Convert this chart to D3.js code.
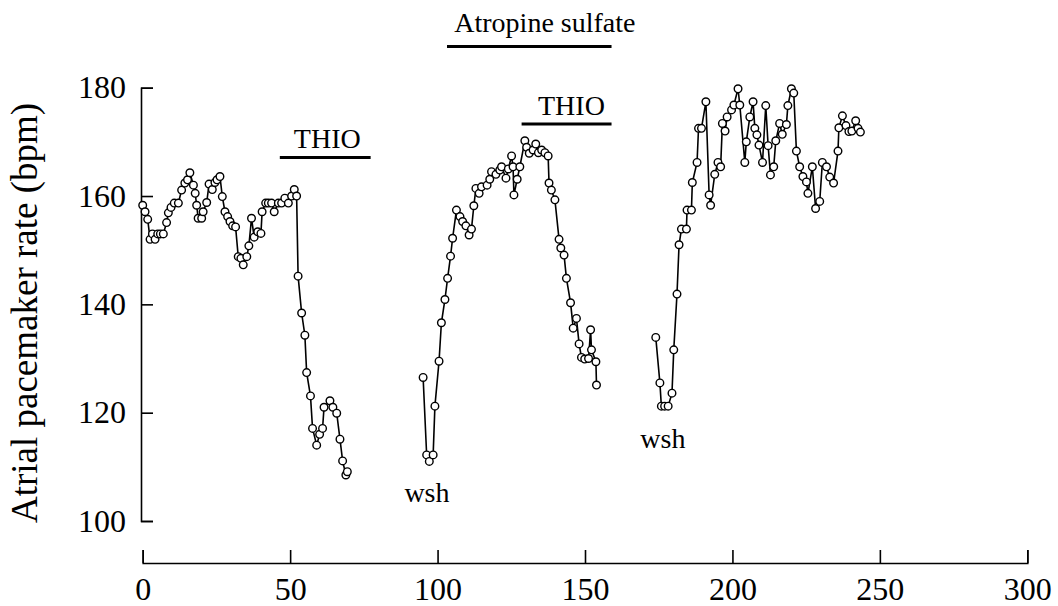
<!DOCTYPE html>
<html><head><meta charset="utf-8">
<script src="https://cdn.jsdelivr.net/npm/d3@7"></script>
<style>
html,body{margin:0;padding:0;background:#fff;}
svg{display:block;}
text{font-family:"Liberation Serif","Times New Roman",serif;fill:#000;}
</style></head>
<body>
<svg id="chart" width="1058" height="606"></svg>
<script>
// ---- data ----
const seg1Time = [0,0.8,1.7,2.5,3.3,4.2,5.1,6.0,7.0,8.1,8.7,9.6,10.7,12.1,13.2,14.3,15.2,16.0,17.2,17.8,18.3,18.8,20.0,20.5,21.7,22.5,23.6,24.5,25.2,26.2,27.0,27.9,28.8,29.6,30.5,31.5,32.4,33.3,34.1,35.3,36.0,36.9,37.8,39.0,40.1,40.5,41.7,42.6,43.7,44.6,46.0,47.1,48.2,49.4,50.5,51.4,52.2,52.7,53.9,55.0,55.6,56.9,57.6,59.0,60.0,61.0,61.5,63.5,64.5,65.8,66.9,67.8,68.9,69.4];
const seg1Rate = [158.3,157.1,155.7,152.0,153.0,152.0,153.0,153.0,153.0,155.1,156.9,157.9,158.7,158.7,161.1,162.4,163.0,164.3,162.0,160.5,158.3,155.9,155.9,157.1,158.8,162.2,161.2,162.5,163.0,163.6,159.9,157.1,156.2,155.3,154.5,154.3,148.8,148.5,147.3,148.8,150.8,155.9,152.4,153.4,153.1,157.1,158.7,158.7,158.7,157.1,158.7,158.7,159.6,158.7,160.0,161.2,160.0,145.2,138.4,134.3,127.4,123.1,117.1,114.0,116.0,117.1,121.0,122.2,121.0,119.9,115.1,111.1,108.5,109.1];

const seg2Time = [95.1,96.3,97.2,98.5,99.1,100.5,101.3,102.5,103.4,104.4,105.1,106.4,107.6,108.5,109.6,110.7,111.5,112.3,113.0,114.1,114.9,116.8,117.7,118.3,119.8,121.1,121.7,123.2,124.0,125.1,125.6,125.9,127.0,127.9,129.6,130.2,131.1,132.4,133.3,134.2,135.3,136.4,137.5,137.8,138.6,139.8,141.2,141.8,142.9,143.7,145.1,146.0,147.1,148.0,148.8,149.9,151.2,151.9,152.2,153.7,153.9];
const seg2Rate = [126.5,112.2,111.0,112.2,121.2,129.5,136.6,140.9,144.8,148.9,152.2,157.4,156.2,155.3,154.5,152.8,153.9,158.2,161.4,160.5,161.7,162.0,163.1,164.5,164.0,164.8,165.4,163.3,165.0,167.4,165.4,160.2,163.1,165.4,170.2,169.0,167.9,168.5,169.6,168.0,168.5,168.0,167.4,162.4,161.1,159.3,152.0,150.4,149.1,144.8,140.3,135.6,137.4,132.7,130.2,129.9,130.0,135.3,131.6,129.4,125.1];

const seg3Time = [174.0,175.4,175.9,177.0,178.2,179.5,180.1,181.2,181.9,182.7,184.4,184.6,186.1,186.4,188.0,188.5,189.5,191.0,192.1,192.6,194.0,195.1,196.0,196.6,197.5,198.2,199.7,200.5,201.9,202.5,204.2,204.7,205.9,207.0,207.6,208.3,209.0,210.2,211.3,212.1,212.9,214.0,214.7,216.0,216.9,218.3,218.8,220.0,220.8,221.7,222.8,223.9,225.1,225.6,227.1,228.2,229.6,230.5,231.9,233.0,234.3,235.8,236.1,237.3,238.5,239.5,240.5,241.8,242.6,243.4];
const seg3Rate = [133.9,125.5,121.2,121.2,121.2,123.6,131.6,141.9,151.0,153.9,153.9,157.4,157.4,162.5,166.2,172.5,172.5,177.4,160.2,158.3,164.0,166.2,165.4,173.4,172.0,174.6,175.9,176.8,179.8,176.8,166.2,170.0,174.6,177.4,172.5,171.3,169.4,166.2,176.7,169.3,163.9,165.4,170.2,173.4,171.4,173.2,176.7,179.8,179.0,168.3,165.4,163.6,162.6,160.5,165.4,157.7,159.0,166.2,165.4,163.5,162.4,168.3,172.6,174.8,173.0,171.9,172.0,173.9,172.5,171.8];

const xTicks = [0,50,100,150,200,250,300];
const yTicks = [100,120,140,160,180];

// annotation bars: [start, end, level]
const barLabels = ["THIO","THIO","Atropine sulfate"];
const barStart = [46.5,128.5,103.2];
const barEnd   = [77.3,159.0,159.0];
const barLevel = [167.1,173.3,187.6];
const labelX   = [62.6,145.4,136.4];
const labelY   = [168.8,174.9,190.3];
const wshLabels = ["wsh","wsh"];
const wshX = [96.4,176.4];
const wshY = [103.6,113.5];

const yTitle = "Atrial pacemaker rate (bpm)";

// ---- drawing ----
const svg = d3.select("#chart");
svg.append("rect").attr("width",1058).attr("height",606).attr("fill","#fff");

const x = d3.scaleLinear().domain([0,300]).range([142.7,1027.3]);
const y = d3.scaleLinear().domain([100,180]).range([521,87.7]);

// y axis
const yAxis = d3.axisLeft(y).tickValues(yTicks).tickSizeInner(-12).tickSizeOuter(-12).tickPadding(15).tickFormat(d3.format("d"));
const gy = svg.append("g").attr("transform","translate(141,0)").call(yAxis);
gy.selectAll("path,line").attr("stroke","#000").attr("stroke-width",1.6);
gy.selectAll("text").attr("font-size",32).attr("font-family","Liberation Serif, serif").attr("fill","#000");

// x axis
const xAxis = d3.axisBottom(x).tickValues(xTicks).tickSizeInner(-13).tickSizeOuter(-13).tickPadding(14).tickFormat(d3.format("d"));
const gx = svg.append("g").attr("transform","translate(0,563)").call(xAxis);
gx.selectAll("path,line").attr("stroke","#000").attr("stroke-width",1.6);
gx.selectAll("text").attr("font-size",32).attr("font-family","Liberation Serif, serif").attr("fill","#000");

// y title
svg.append("text")
  .attr("transform","translate(37,313) rotate(-90)")
  .attr("text-anchor","middle")
  .attr("font-size",37)
  .text(yTitle);

// series
const segments = [
  d3.zip(seg1Time, seg1Rate),
  d3.zip(seg2Time, seg2Rate),
  d3.zip(seg3Time, seg3Rate)
];
const line = d3.line().x(d=>x(d[0])).y(d=>y(d[1]));
svg.append("g").selectAll("path").data(segments).join("path")
  .attr("d", line).attr("fill","none").attr("stroke","#000").attr("stroke-width",1.6);

svg.append("g").selectAll("circle").data(segments.flat()).join("circle")
  .attr("cx", d=>x(d[0])).attr("cy", d=>y(d[1])).attr("r",3.8)
  .attr("fill","#fff").attr("stroke","#000").attr("stroke-width",1.4);

// annotation bars and labels
const ann = svg.append("g");
barLabels.forEach((lab,i)=>{
  ann.append("line")
    .attr("x1", x(barStart[i])).attr("x2", x(barEnd[i]))
    .attr("y1", y(barLevel[i])).attr("y2", y(barLevel[i]))
    .attr("stroke","#000").attr("stroke-width",3);
  ann.append("text")
    .attr("x", x(labelX[i])).attr("y", y(labelY[i]))
    .attr("text-anchor","middle").attr("font-size",28).text(lab);
});
wshLabels.forEach((lab,i)=>{
  ann.append("text")
    .attr("x", x(wshX[i])).attr("y", y(wshY[i]))
    .attr("text-anchor","middle").attr("font-size",28).text(lab);
});
</script>
</body></html>
